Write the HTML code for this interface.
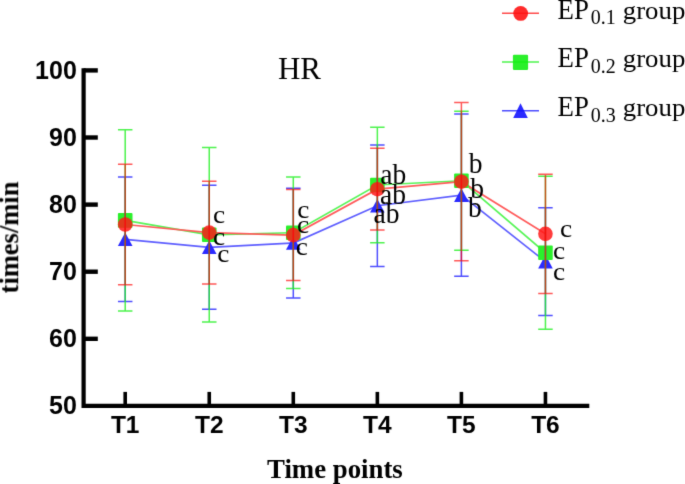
<!DOCTYPE html>
<html><head><meta charset="utf-8"><style>
html,body{margin:0;padding:0;background:#fff;width:685px;height:484px;overflow:hidden;}
svg{display:block;}
#w{width:685px;height:484px;}
text{fill:#000;}
</style></head><body><div id="w">
<svg width="685" height="484" viewBox="0 0 685 484">
<defs><filter id="bl" x="0" y="0" width="685" height="484" filterUnits="userSpaceOnUse" color-interpolation-filters="sRGB"><feConvolveMatrix order="3" kernelMatrix="0.01134 0.08382 0.01134 0.08382 0.61935 0.08382 0.01134 0.08382 0.01134" divisor="1" edgeMode="duplicate"/></filter></defs>
<rect width="685" height="484" fill="#fff"/>
<g filter="url(#bl)">
<path d="M83.6,68.3V405.9H589.3" fill="none" stroke="#000" stroke-width="4.2" stroke-linejoin="miter" stroke-linecap="butt"/>
<path d="M83.6,70.4H97.8" stroke="#000" stroke-width="4.4"/>
<path d="M83.6,137.5H97.8" stroke="#000" stroke-width="4.4"/>
<path d="M83.6,204.6H97.8" stroke="#000" stroke-width="4.4"/>
<path d="M83.6,271.7H97.8" stroke="#000" stroke-width="4.4"/>
<path d="M83.6,338.8H97.8" stroke="#000" stroke-width="4.4"/>
<path d="M125.20,391.9V404" stroke="#000" stroke-width="3.6"/>
<path d="M209.25,391.9V404" stroke="#000" stroke-width="3.6"/>
<path d="M293.30,391.9V404" stroke="#000" stroke-width="3.6"/>
<path d="M377.35,391.9V404" stroke="#000" stroke-width="3.6"/>
<path d="M461.40,391.9V404" stroke="#000" stroke-width="3.6"/>
<path d="M545.45,391.9V404" stroke="#000" stroke-width="3.6"/>
<text x="76.8" y="78.75" text-anchor="end" font-family="Liberation Sans" font-weight="bold" font-size="25">100</text>
<text x="76.8" y="145.85" text-anchor="end" font-family="Liberation Sans" font-weight="bold" font-size="25">90</text>
<text x="76.8" y="212.95" text-anchor="end" font-family="Liberation Sans" font-weight="bold" font-size="25">80</text>
<text x="76.8" y="280.05" text-anchor="end" font-family="Liberation Sans" font-weight="bold" font-size="25">70</text>
<text x="76.8" y="347.15" text-anchor="end" font-family="Liberation Sans" font-weight="bold" font-size="25">60</text>
<text x="76.8" y="414.25" text-anchor="end" font-family="Liberation Sans" font-weight="bold" font-size="25">50</text>
<text x="125.20" y="433.3" text-anchor="middle" font-family="Liberation Sans" font-weight="bold" font-size="24.5">T1</text>
<text x="209.25" y="433.3" text-anchor="middle" font-family="Liberation Sans" font-weight="bold" font-size="24.5">T2</text>
<text x="293.30" y="433.3" text-anchor="middle" font-family="Liberation Sans" font-weight="bold" font-size="24.5">T3</text>
<text x="377.35" y="433.3" text-anchor="middle" font-family="Liberation Sans" font-weight="bold" font-size="24.5">T4</text>
<text x="461.40" y="433.3" text-anchor="middle" font-family="Liberation Sans" font-weight="bold" font-size="24.5">T5</text>
<text x="545.45" y="433.3" text-anchor="middle" font-family="Liberation Sans" font-weight="bold" font-size="24.5">T6</text>
<text x="299.5" y="78.8" text-anchor="middle" font-family="Liberation Serif" font-size="31">HR</text>
<text x="334.9" y="477.9" text-anchor="middle" font-family="Liberation Serif" font-weight="bold" font-size="26.8">Time points</text>
<text transform="translate(18.2,237.5) rotate(-90)" text-anchor="middle" font-family="Liberation Serif" font-weight="bold" font-size="26.5">times/min</text>
<polyline points="125.20,239.30 209.25,247.30 293.30,243.05 377.35,205.75 461.40,195.10 545.45,261.65" fill="none" stroke="#5e5eff" stroke-width="1.7" stroke-opacity="1"/>
<polyline points="125.20,220.40 209.25,234.80 293.30,232.70 377.35,185.00 461.40,180.75 545.45,252.75" fill="none" stroke="#58f558" stroke-width="1.7" stroke-opacity="1"/>
<polyline points="125.20,224.50 209.25,232.60 293.30,235.10 377.35,189.20 461.40,181.70 545.45,233.80" fill="none" stroke="#ff5c5c" stroke-width="1.7" stroke-opacity="1"/>
<path d="M125.20,232.50L132.50,246.10L117.90,246.10Z" fill="#2a2aff" fill-opacity="1"/>
<path d="M209.25,240.50L216.55,254.10L201.95,254.10Z" fill="#2a2aff" fill-opacity="1"/>
<path d="M293.30,236.25L300.60,249.85L286.00,249.85Z" fill="#2a2aff" fill-opacity="1"/>
<path d="M377.35,198.95L384.65,212.55L370.05,212.55Z" fill="#2a2aff" fill-opacity="1"/>
<path d="M461.40,188.30L468.70,201.90L454.10,201.90Z" fill="#2a2aff" fill-opacity="1"/>
<path d="M545.45,254.85L552.75,268.45L538.15,268.45Z" fill="#2a2aff" fill-opacity="1"/>
<rect x="117.90" y="213.10" width="14.6" height="14.6" rx="1" fill="#2bf02b" fill-opacity="1"/>
<rect x="201.95" y="227.50" width="14.6" height="14.6" rx="1" fill="#2bf02b" fill-opacity="1"/>
<rect x="286.00" y="225.40" width="14.6" height="14.6" rx="1" fill="#2bf02b" fill-opacity="1"/>
<rect x="370.05" y="177.70" width="14.6" height="14.6" rx="1" fill="#2bf02b" fill-opacity="1"/>
<rect x="454.10" y="173.45" width="14.6" height="14.6" rx="1" fill="#2bf02b" fill-opacity="1"/>
<rect x="538.15" y="245.45" width="14.6" height="14.6" rx="1" fill="#2bf02b" fill-opacity="1"/>
<path d="M125.20,177.00V301.60M117.95,177.00H132.45M117.95,301.60H132.45" stroke="#3030ff" stroke-width="1.5" stroke-opacity="0.85" fill="none"/>
<path d="M209.25,185.30V309.30M202.00,185.30H216.50M202.00,309.30H216.50" stroke="#3030ff" stroke-width="1.5" stroke-opacity="0.85" fill="none"/>
<path d="M293.30,188.20V297.90M286.05,188.20H300.55M286.05,297.90H300.55" stroke="#3030ff" stroke-width="1.5" stroke-opacity="0.85" fill="none"/>
<path d="M377.35,144.90V266.60M370.10,144.90H384.60M370.10,266.60H384.60" stroke="#3030ff" stroke-width="1.5" stroke-opacity="0.85" fill="none"/>
<path d="M461.40,113.90V276.30M454.15,113.90H468.65M454.15,276.30H468.65" stroke="#3030ff" stroke-width="1.5" stroke-opacity="0.85" fill="none"/>
<path d="M545.45,207.70V315.60M538.20,207.70H552.70M538.20,315.60H552.70" stroke="#3030ff" stroke-width="1.5" stroke-opacity="0.85" fill="none"/>
<path d="M125.20,129.70V311.00M117.95,129.70H132.45M117.95,311.00H132.45" stroke="#20f020" stroke-width="1.5" stroke-opacity="0.8" fill="none"/>
<path d="M209.25,147.60V322.00M202.00,147.60H216.50M202.00,322.00H216.50" stroke="#20f020" stroke-width="1.5" stroke-opacity="0.8" fill="none"/>
<path d="M293.30,176.90V288.50M286.05,176.90H300.55M286.05,288.50H300.55" stroke="#20f020" stroke-width="1.5" stroke-opacity="0.8" fill="none"/>
<path d="M377.35,127.30V242.70M370.10,127.30H384.60M370.10,242.70H384.60" stroke="#20f020" stroke-width="1.5" stroke-opacity="0.8" fill="none"/>
<path d="M461.40,111.30V250.20M454.15,111.30H468.65M454.15,250.20H468.65" stroke="#20f020" stroke-width="1.5" stroke-opacity="0.8" fill="none"/>
<path d="M545.45,176.20V329.30M538.20,176.20H552.70M538.20,329.30H552.70" stroke="#20f020" stroke-width="1.5" stroke-opacity="0.8" fill="none"/>
<circle cx="125.20" cy="224.50" r="7.3" fill="#ff1a1a" fill-opacity="0.85"/>
<circle cx="209.25" cy="232.60" r="7.3" fill="#ff1a1a" fill-opacity="0.85"/>
<circle cx="293.30" cy="235.10" r="7.3" fill="#ff1a1a" fill-opacity="0.85"/>
<circle cx="377.35" cy="189.20" r="7.3" fill="#ff1a1a" fill-opacity="0.85"/>
<circle cx="461.40" cy="181.70" r="7.3" fill="#ff1a1a" fill-opacity="0.85"/>
<circle cx="545.45" cy="233.80" r="7.3" fill="#ff1a1a" fill-opacity="0.85"/>
<path d="M125.20,164.30V284.80M117.95,164.30H132.45M117.95,284.80H132.45" stroke="#ff0000" stroke-width="1.5" stroke-opacity="0.66" fill="none"/>
<path d="M209.25,181.30V284.00M202.00,181.30H216.50M202.00,284.00H216.50" stroke="#ff0000" stroke-width="1.5" stroke-opacity="0.66" fill="none"/>
<path d="M293.30,189.60V280.60M286.05,189.60H300.55M286.05,280.60H300.55" stroke="#ff0000" stroke-width="1.5" stroke-opacity="0.66" fill="none"/>
<path d="M377.35,148.30V230.10M370.10,148.30H384.60M370.10,230.10H384.60" stroke="#ff0000" stroke-width="1.5" stroke-opacity="0.66" fill="none"/>
<path d="M461.40,102.60V260.80M454.15,102.60H468.65M454.15,260.80H468.65" stroke="#ff0000" stroke-width="1.5" stroke-opacity="0.66" fill="none"/>
<path d="M545.45,174.20V293.40M538.20,174.20H552.70M538.20,293.40H552.70" stroke="#ff0000" stroke-width="1.5" stroke-opacity="0.66" fill="none"/>
<text transform="translate(212.9,223.2) scale(1.05,1)" font-family="Liberation Serif" font-size="26">c</text>
<text transform="translate(212.9,244.7) scale(1.05,1)" font-family="Liberation Serif" font-size="26">c</text>
<text transform="translate(217.3,262.2) scale(1.05,1)" font-family="Liberation Serif" font-size="26">c</text>
<text transform="translate(297.3,218.2) scale(1.05,1)" font-family="Liberation Serif" font-size="26">c</text>
<text transform="translate(297.0,233.2) scale(1.05,1)" font-family="Liberation Serif" font-size="26">c</text>
<text transform="translate(295.8,255.0) scale(1.05,1)" font-family="Liberation Serif" font-size="26">c</text>
<text transform="translate(380.3,183.5) scale(0.95,1)" font-family="Liberation Serif" font-size="29">ab</text>
<text transform="translate(380.0,203.8) scale(0.95,1)" font-family="Liberation Serif" font-size="29">ab</text>
<text transform="translate(373.5,223.3) scale(0.95,1)" font-family="Liberation Serif" font-size="29">ab</text>
<text transform="translate(468.8,172.6) scale(0.95,1)" font-family="Liberation Serif" font-size="29">b</text>
<text transform="translate(470.2,198.2) scale(0.95,1)" font-family="Liberation Serif" font-size="29">b</text>
<text transform="translate(468.1,217.1) scale(0.95,1)" font-family="Liberation Serif" font-size="29">b</text>
<text transform="translate(560.0,237.2) scale(1.05,1)" font-family="Liberation Serif" font-size="26">c</text>
<text transform="translate(553.0,258.5) scale(1.05,1)" font-family="Liberation Serif" font-size="26">c</text>
<text transform="translate(553.0,280.2) scale(1.05,1)" font-family="Liberation Serif" font-size="26">c</text>
<circle cx="520.65" cy="13.4" r="7.4" fill="#ff2a2a"/>
<path d="M502,13.3H539" stroke="#ff1010" stroke-width="1.5" stroke-opacity="0.75"/>
<text transform="translate(557.6,18.5) scale(0.94,1)" font-family="Liberation Serif" font-size="28.5">EP</text>
<text transform="translate(590.8,24.2) scale(0.93,1)" font-family="Liberation Serif" font-size="21.5">0.1</text>
<text transform="translate(622.8,18.5) scale(0.94,0.9)" font-family="Liberation Serif" font-size="28.5">group</text>
<rect x="512.9" y="54.7" width="15.2" height="15.2" rx="1.2" fill="#2bf02b"/>
<path d="M502,62.1H539" stroke="#10f010" stroke-width="1.5" stroke-opacity="0.75"/>
<text transform="translate(557.6,67.3) scale(0.94,1)" font-family="Liberation Serif" font-size="28.5">EP</text>
<text transform="translate(590.8,73.0) scale(0.93,1)" font-family="Liberation Serif" font-size="21.5">0.2</text>
<text transform="translate(622.8,67.3) scale(0.94,0.9)" font-family="Liberation Serif" font-size="28.5">group</text>
<path d="M520.5,103.2L527.8,117.9L513.2,117.9Z" fill="#2a2aff"/>
<path d="M502,110.8H539" stroke="#1010ff" stroke-width="1.5" stroke-opacity="0.75"/>
<text transform="translate(557.6,116.0) scale(0.94,1)" font-family="Liberation Serif" font-size="28.5">EP</text>
<text transform="translate(590.8,121.7) scale(0.93,1)" font-family="Liberation Serif" font-size="21.5">0.3</text>
<text transform="translate(622.8,116.0) scale(0.94,0.9)" font-family="Liberation Serif" font-size="28.5">group</text>
</g>
</svg>
</div></body></html>
